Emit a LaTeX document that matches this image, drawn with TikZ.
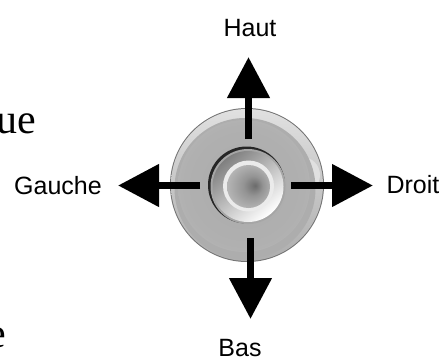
\documentclass[tikz,border=0pt]{standalone}
\usepackage{fontspec}
\setmainfont{Liberation Serif}
\setsansfont{Liberation Sans}
\usetikzlibrary{arrows.meta}
\tikzset{
  lab/.style={font=\sffamily\fontsize{25}{27}\selectfont,inner sep=0pt,text=black,anchor=base},
  bigtxt/.style={font=\rmfamily\fontsize{42}{44}\selectfont,inner sep=0pt,anchor=base east},
  dirarrow/.style={line width=7.7pt,-{Triangle[length=41pt,width=41pt]},black}
}
\pgfdeclareradialshading{innerdisc}{\pgfpoint{0.28cm}{0.04cm}}{color(0cm)=(black!58);color(0.4cm)=(black!42);color(0.9cm)=(black!30);color(1.2cm)=(black!26)}
\pgfdeclareradialshading{bodydisc}{\pgfpoint{0cm}{0cm}}{color(0cm)=(black!33);color(0.8cm)=(black!31);color(1.1cm)=(black!28);color(1.2cm)=(black!33)}
\begin{document}
\begin{tikzpicture}[x=1pt,y=-1pt]
\useasboundingbox (0,0) rectangle (443,356);
\clip (0,0) rectangle (443,356);
\node[bigtxt] (ue) at (36,133) {ue};
\node[bigtxt] (e) at (6,347) {e};
% disk
\coordinate (c) at (247,185);
\fill[black!55] (c) circle (77);
\shade[top color=black!12,bottom color=black!32] (c) circle (76);
\begin{scope}
  \clip (c) circle (76);
  \fill[black!12] (c) ++(55,-10) circle (18);
\end{scope}
\fill[black!32] (c) ++(-2,3.5) circle (70.5);
\shade[shading=bodydisc] (c) ++(-3,1) circle (66);
% centre
\fill[black!85] (c) ++(-0.5,0) circle (38.5);
\fill[black!35] (c) ++(1,1.5) circle (37.5);
\shade[left color=black!50,right color=white,shading angle=40] (c) ++(1,1.5) circle (35.5);
\fill[white!92!black] (c) ++(1.5,1) circle (25.5);
\shade[shading=innerdisc] (c) ++(1.5,1.5) circle (21.5);
% arrows
\coordinate (us) at (248.5,139); \coordinate (ut) at (248.5,57);
\coordinate (ds) at (250.5,238); \coordinate (dt) at (250.5,319);
\coordinate (ls) at (200,185.5); \coordinate (lt) at (118,185.5);
\coordinate (rs) at (291,185.5); \coordinate (rt) at (373,185.5);
\draw[dirarrow] (us) -- (ut);
\draw[dirarrow] (ds) -- (dt);
\draw[dirarrow] (ls) -- (lt);
\draw[dirarrow] (rs) -- (rt);
% labels
\node[lab] (haut) at (250,36) {Haut};
\node[lab] (gauche) at (58,194) {Gauche};
\node[lab] (droit) at (413,193) {Droit};
\node[lab] (bas) at (240,356) {Bas};
\end{tikzpicture}
\end{document}
